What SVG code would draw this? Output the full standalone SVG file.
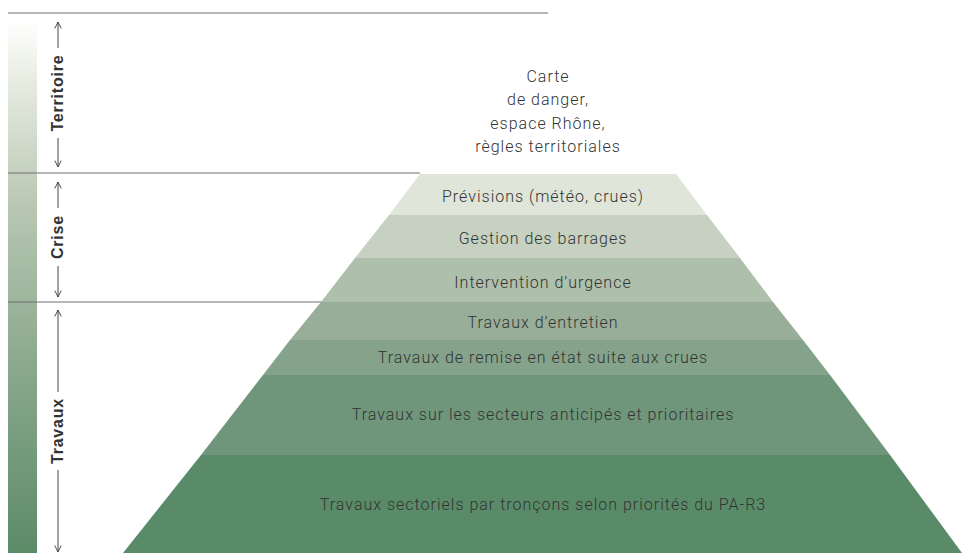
<svg xmlns="http://www.w3.org/2000/svg" width="965" height="553" viewBox="0 0 965 553">
  <defs>
    <linearGradient id="bar" x1="0" y1="20" x2="0" y2="553" gradientUnits="userSpaceOnUse">
      <stop offset="0" stop-color="#ffffff"/>
      <stop offset="0.12" stop-color="#e6ebdf"/>
      <stop offset="0.35" stop-color="#b8c7b3"/>
      <stop offset="0.65" stop-color="#8aa88e"/>
      <stop offset="1" stop-color="#5c8b68"/>
    </linearGradient>
    <marker id="ah" viewBox="0 0 10 10" refX="9" refY="5" markerWidth="8" markerHeight="8" markerUnits="userSpaceOnUse" orient="auto">
      <polyline points="1,1 9,5 1,9" fill="none" stroke="#444" stroke-width="1.2"/>
    </marker>
    <style>
      .lbl { font-family: Roboto, "Liberation Sans", sans-serif; font-size: 16px; font-weight: 300; fill: #333333; text-anchor: middle; letter-spacing: 1px; }
      .side { font-family: "Liberation Sans", Arial, sans-serif; font-size: 16px; font-weight: bold; fill: #333; text-anchor: middle; letter-spacing: 0.8px; }
      .rule { stroke: #6e6e6e; stroke-width: 1; fill: none; }
      .arr { stroke: #444; stroke-width: 1; fill: none; marker-end: url(#ah); }
    </style>
  </defs>
  <rect width="965" height="553" fill="#ffffff"/>

  <rect id="gradient-bar" x="8" y="20" width="29" height="533" fill="url(#bar)"/>

  <g id="rules">
    <line class="rule" x1="8" y1="13" x2="548" y2="13"/>
    <line class="rule" x1="8" y1="173" x2="420" y2="173"/>
    <line class="rule" x1="8" y1="302" x2="322" y2="302"/>
  </g>

  <g id="connectors">
    <line class="arr" x1="58" y1="48" x2="58" y2="22"/>
    <line class="arr" x1="58" y1="138" x2="58" y2="167"/>
    <line class="arr" x1="58" y1="208" x2="58" y2="182"/>
    <line class="arr" x1="58" y1="266" x2="58" y2="297"/>
    <line class="arr" x1="58" y1="392" x2="58" y2="310"/>
    <line class="arr" x1="58" y1="470" x2="58" y2="552"/>
  </g>

  <g id="side-territoire"><text class="side" transform="translate(63,93) rotate(-90)">Territoire</text></g>
  <g id="side-crise"><text class="side" transform="translate(63,237) rotate(-90)">Crise</text></g>
  <g id="side-travaux"><text class="side" transform="translate(63,431) rotate(-90)">Travaux</text></g>

  <g id="territoire-text">
    <text class="lbl" x="548" y="82">Carte</text>
    <text class="lbl" x="548" y="105">de danger,</text>
    <text class="lbl" x="548" y="129">espace Rhône,</text>
    <text class="lbl" x="548" y="152">règles territoriales</text>
  </g>

  <g id="band-1">
    <polygon points="420,174 676,174 707,215 389,215" fill="#dfe5d8"/>
    <text class="lbl" x="543" y="202">Prévisions (météo, crues)</text>
  </g>
  <g id="band-2">
    <polygon points="389,215 707,215 740,258 355,258" fill="#c6d1c1"/>
    <text class="lbl" x="543" y="244">Gestion des barrages</text>
  </g>
  <g id="band-3">
    <polygon points="355,258 740,258 773,302 321,302" fill="#aebfab"/>
    <text class="lbl" x="543" y="288">Intervention d’urgence</text>
  </g>
  <g id="band-4">
    <polygon points="321,302 773,302 803,340 290,340" fill="#98ae98"/>
    <text class="lbl" x="543" y="328">Travaux d’entretien</text>
  </g>
  <g id="band-5">
    <polygon points="290,340 803,340 830,375 263,375" fill="#84a38a"/>
    <text class="lbl" x="543" y="363">Travaux de remise en état suite aux crues</text>
  </g>
  <g id="band-6">
    <polygon points="263,375 830,375 890,455 201,455" fill="#6f967a"/>
    <text class="lbl" x="543" y="420">Travaux sur les secteurs anticipés et prioritaires</text>
  </g>
  <g id="band-7">
    <polygon points="201,455 890,455 962,553 123,553" fill="#5a8b68"/>
    <text class="lbl" x="543" y="510">Travaux sectoriels par tronçons selon priorités du PA-R3</text>
  </g>
</svg>
